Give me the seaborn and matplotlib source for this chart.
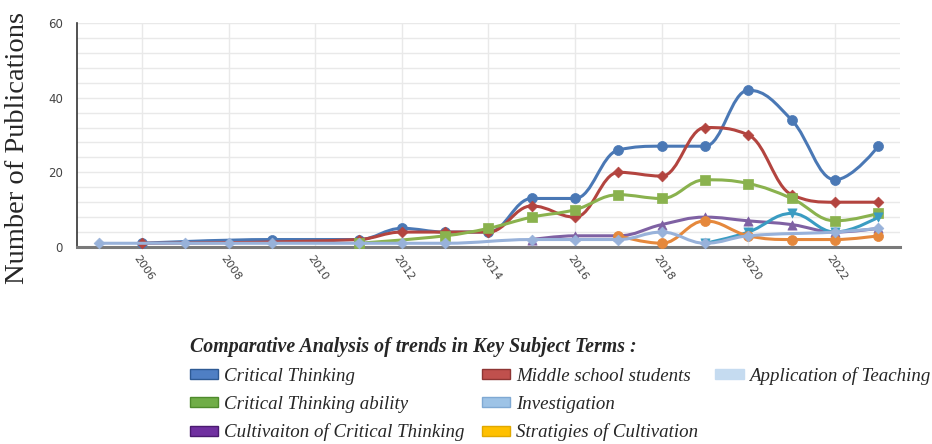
import numpy as np
import pandas as pd
import seaborn as sns
import matplotlib
matplotlib.use("Agg")
import matplotlib.pyplot as plt
from matplotlib.path import Path
from matplotlib.patches import PathPatch, Patch
from matplotlib.ticker import MultipleLocator, FixedLocator
import matplotlib.transforms as mtransforms

# ---------------- data ----------------
ct_years = [2006, 2009, 2011, 2012, 2013, 2014, 2015, 2016, 2017, 2018, 2019, 2020, 2021, 2022, 2023]
ct_vals = [1, 2, 2, 5, 4, 4, 13, 13, 26, 27, 27, 42, 34, 18, 27]

mss_years = [2006, 2011, 2012, 2013, 2014, 2015, 2016, 2017, 2018, 2019, 2020, 2021, 2022, 2023]
mss_vals = [1, 2, 4, 4, 4, 11, 8, 20, 19, 32, 30, 14, 12, 12]

cta_years = [2011, 2013, 2014, 2015, 2016, 2017, 2018, 2019, 2020, 2021, 2022, 2023]
cta_vals = [1, 3, 5, 8, 10, 14, 13, 18, 17, 13, 7, 9]

cult_years = [2015, 2016, 2017, 2018, 2019, 2020, 2021, 2022, 2023]
cult_vals = [2, 3, 3, 6, 8, 7, 6, 4, 5]

inv_years = [2019, 2020, 2021, 2022, 2023]
inv_vals = [1, 4, 9, 4, 8]

strat_years = [2017, 2018, 2019, 2020, 2021, 2022, 2023]
strat_vals = [3, 1, 7, 3, 2, 2, 3]

app_years = [2005, 2007, 2008, 2009, 2011, 2012, 2013, 2015, 2016, 2017, 2018, 2019, 2020, 2022, 2023]
app_vals = [1, 1, 1, 1, 1, 1, 1, 2, 2, 2, 4, 1, 3, 4, 5]

series_names = ["Critical Thinking", "Middle school students", "Critical Thinking ability",
                "Cultivaiton of Critical Thinking", "Investigation", "Stratigies of Cultivation",
                "Application of Teaching"]
series_data = [(ct_years, ct_vals), (mss_years, mss_vals), (cta_years, cta_vals),
               (cult_years, cult_vals), (inv_years, inv_vals), (strat_years, strat_vals),
               (app_years, app_vals)]
line_colors = ["#4a78b5", "#b3443f", "#8ab24e", "#7f61a3", "#3a9cc2", "#e5883c", "#98b2da"]
markers = ["o", "D", "s", "^", "v", "o", "D"]
legend_colors = {"Critical Thinking": ("#4f7fc4", "#2e5a94"),
                 "Middle school students": ("#c0504d", "#8e3533"),
                 "Application of Teaching": ("#c5dbf0", "#c5dbf0"),
                 "Critical Thinking ability": ("#70ad47", "#4e8a2c"),
                 "Investigation": ("#9dc3e6", "#7fa9d3"),
                 "Cultivaiton of Critical Thinking": ("#7030a0", "#4a1a70"),
                 "Stratigies of Cultivation": ("#ffc000", "#e0a800")}
# column-major layout of the legend (None = empty slot)
legend_order = ["Critical Thinking", "Critical Thinking ability", "Cultivaiton of Critical Thinking",
                "Middle school students", "Investigation", "Stratigies of Cultivation",
                "Application of Teaching", None, None]
legend_title = "Comparative Analysis of trends in Key Subject Terms :"
y_label = "Number of Publications"


def spline_path(xs, ys, smoothing=1.5):
    n = len(xs)
    left = [None] * n
    right = [None] * n
    for i in range(n):
        px, py = xs[i], ys[i]
        if i == 0 or i == n - 1:
            left[i] = right[i] = (px, py)
            continue
        lx, ly = xs[i - 1], ys[i - 1]
        nx, ny = xs[i + 1], ys[i + 1]
        d = smoothing + 1
        lcx = (smoothing * px + lx) / d
        lcy = (smoothing * py + ly) / d
        rcx = (smoothing * px + nx) / d
        rcy = (smoothing * py + ny) / d
        if rcx != lcx:
            corr = ((rcy - lcy) * (rcx - px)) / (rcx - lcx) + py - rcy
            lcy += corr
            rcy += corr
        if lcy > ly and lcy > py:
            lcy = max(ly, py); rcy = 2 * py - lcy
        elif lcy < ly and lcy < py:
            lcy = min(ly, py); rcy = 2 * py - lcy
        if rcy > ny and rcy > py:
            rcy = max(ny, py); lcy = 2 * py - rcy
        elif rcy < ny and rcy < py:
            rcy = min(ny, py); lcy = 2 * py - rcy
        left[i] = (lcx, lcy)
        right[i] = (rcx, rcy)
    verts = [(xs[0], ys[0])]
    codes = [Path.MOVETO]
    for i in range(1, n):
        verts += [right[i - 1], left[i], (xs[i], ys[i])]
        codes += [Path.CURVE4] * 3
    return Path(verts, codes)


sns.set_style("white")
plt.rcParams["font.family"] = ["DejaVu Sans"]

fig = plt.figure(figsize=(9.32, 4.44), dpi=100)
ax = fig.add_axes([77 / 932, 1 - 247 / 444, (900 - 77) / 932, (247 - 23) / 444])

for k, (name, (yrs, vals)) in enumerate(zip(series_names, series_data)):
    df = pd.DataFrame({"year": yrs, "count": vals})
    patch = PathPatch(spline_path([float(v) for v in yrs], [float(v) for v in vals]),
                      facecolor="none", edgecolor=line_colors[k], lw=2.2,
                      zorder=3 + k, clip_on=False, capstyle="round", joinstyle="round")
    ax.add_patch(patch)
    msize = {"o": 52, "s": 48, "^": 44, "v": 44, "D": 30}[markers[k]]
    sns.scatterplot(data=df, x="year", y="count", ax=ax, color=line_colors[k],
                    marker=markers[k], s=msize, edgecolor=line_colors[k], linewidth=0.5,
                    zorder=3.5 + k, clip_on=False, legend=False)

ax.set_xlim(2004.5, 2023.5)
ax.set_ylim(0, 60)
ax.set_xlabel("")
ax.set_ylabel("")
ax.xaxis.set_major_locator(FixedLocator(list(range(2006, 2023, 2))))
ax.yaxis.set_major_locator(FixedLocator([0, 20, 40, 60]))
ax.yaxis.set_minor_locator(MultipleLocator(4))
ax.grid(axis="x", which="major", color="#e9e9e9", lw=1)
ax.grid(axis="y", which="both", color="#e9e9e9", lw=1)
ax.set_axisbelow(True)

for s in ["top", "right"]:
    ax.spines[s].set_visible(False)
ax.spines["bottom"].set_color("#7a7a7a")
ax.spines["bottom"].set_linewidth(2.2)
ax.spines["left"].set_color("#333333")
ax.spines["left"].set_linewidth(1.2)

ax.tick_params(axis="y", which="major", length=7, width=1, color="#555555", pad=3,
               labelsize=8.5, labelcolor="#444444")
ax.tick_params(axis="y", which="minor", length=0)
ax.tick_params(axis="x", which="major", length=5, width=1, color="#888888", pad=2,
               labelsize=8, labelcolor="#444444")
ax.set_xticklabels([str(y) for y in range(2006, 2023, 2)])
offset = mtransforms.ScaledTranslation(-6 / 100, 0, fig.dpi_scale_trans)
for lbl in ax.get_xticklabels():
    lbl.set_rotation(-55)
    lbl.set_ha("left")
    lbl.set_va("center")
    lbl.set_rotation_mode("anchor")
    lbl.set_transform(lbl.get_transform() + offset)

fig.text(18 / 932, 1 - 148 / 444, y_label, rotation=90, ha="center", va="center",
         fontsize=20.5, family=["Liberation Serif", "DejaVu Serif"])

handles = []
labels = []
for n in legend_order:
    if n is None:
        handles.append(Patch(facecolor="none", edgecolor="none"))
        labels.append("")
    else:
        handles.append(Patch(facecolor=legend_colors[n][0], edgecolor=legend_colors[n][1], lw=1.0))
        labels.append(n)
leg = fig.legend(handles, labels, loc="upper left",
                 bbox_to_anchor=(190 / 932, 1 - 337 / 444), ncol=3, frameon=False,
                 title=legend_title, alignment="left",
                 prop={"family": ["Liberation Serif"], "style": "italic", "size": 13.6},
                 title_fontproperties={"family": ["Liberation Serif"], "style": "italic",
                                       "weight": "bold", "size": 14.3},
                 handlelength=1.5, handleheight=0.42, handletextpad=0.3,
                 labelspacing=0.58, columnspacing=0.92, borderpad=0, borderaxespad=0)
leg._legend_box.align = "left"
# gap between the legend title and the first row
leg._legend_box.sep = 7

fig.savefig("out.png", dpi=100)
